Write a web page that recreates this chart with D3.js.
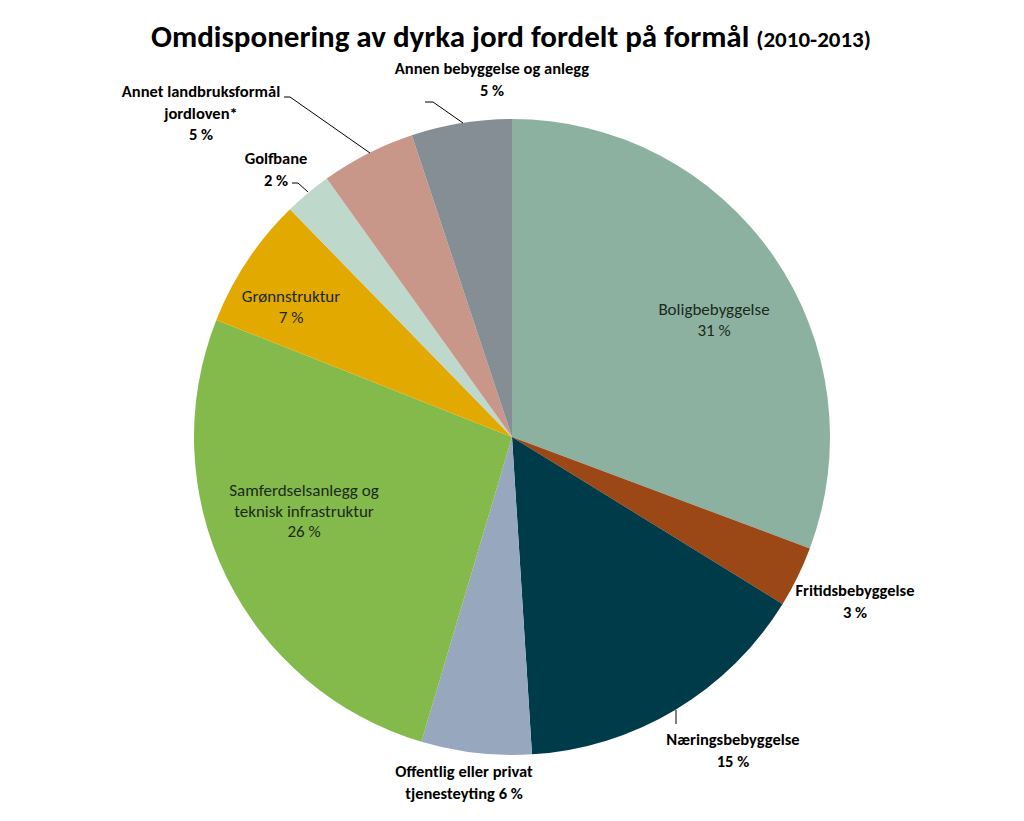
<!DOCTYPE html>
<html><head><meta charset="utf-8">
<script src="https://cdn.jsdelivr.net/npm/d3@7/dist/d3.min.js"></script>
<style>body{margin:0;background:#fff}svg{display:block}</style>
</head><body>
<svg id="c" width="1024" height="821"></svg>
<script>
const categories = ["Boligbebyggelse","Fritidsbebyggelse","Næringsbebyggelse","Offentlig eller privat tjenesteyting","Samferdselsanlegg og teknisk infrastruktur","Grønnstruktur","Golfbane","Annet landbruksformål jordloven*","Annen bebyggelse og anlegg"];
const values = [30.7, 3.1, 15.2, 5.6, 26.4, 6.7, 2.4, 4.8, 5.1];
const colors = ["#8DB1A0","#9B4716","#003B4A","#97A7BE","#84B94B","#E2A900","#BED9CB","#C9968A","#858E95"];
const labelLines = [["Boligbebyggelse","31 %"],["Fritidsbebyggelse","3 %"],["Næringsbebyggelse","15 %"],["Offentlig eller privat","tjenesteyting 6 %"],["Samferdselsanlegg og","teknisk infrastruktur","26 %"],["Grønnstruktur","7 %"],["Golfbane","2 %"],["Annet landbruksformål","jordloven*","5 %"],["Annen bebyggelse og anlegg","5 %"]];
// layout
const cx = 512, cy = 437, R = 318;
const labelPos = [[714,315,false],[855,596,true],[733,745,true],[464,777,true],[304,496,false],[291,302,false],[276,164,true],[201,97,true],[492,74,true]];
const leaders = [null,null,[[676,710],[676,724]],null,null,null,[[292,183],[298,183],[308,192]],[[284,97],[290,97],[370,153]],[[425,102],[433,102],[463,123]]];

const svg = d3.select("#c");
const font = "Carlito, Calibri, Lato, sans-serif";
svg.append("text").attr("x",511).attr("y",47).attr("text-anchor","middle")
  .attr("font-family",font).attr("font-weight","bold").attr("fill","#000")
  .call(t=>{t.append("tspan").attr("font-size",31).text("Omdisponering av dyrka jord fordelt på formål ");
            t.append("tspan").attr("font-size",23).text("(2010-2013)");});

const pie = d3.pie().sort(null).value(d=>d)(values);
const arc = d3.arc().innerRadius(0).outerRadius(R);
const g = svg.append("g").attr("transform",`translate(${cx},${cy})`);
g.selectAll("path").data(pie).join("path").attr("d",arc).attr("fill",(d,i)=>colors[i]);

const line = d3.line();
leaders.forEach(l=>{ if(l) svg.append("path").attr("d",line(l)).attr("fill","none").attr("stroke","#000").attr("stroke-width",1); });

labelLines.forEach((lines,i)=>{
  const [x,y,bold] = labelPos[i];
  const t = svg.append("text").attr("text-anchor","middle").attr("font-family",font)
    .attr("font-size", bold?16.5:17).attr("font-weight", bold?"bold":"normal").attr("fill", bold?"#000":"#1a2a1a");
  lines.forEach((s,j)=>t.append("tspan").attr("x",x).attr("y",y+j*(bold?21.5:20.5)).text(s));
});
</script>
</body></html>
